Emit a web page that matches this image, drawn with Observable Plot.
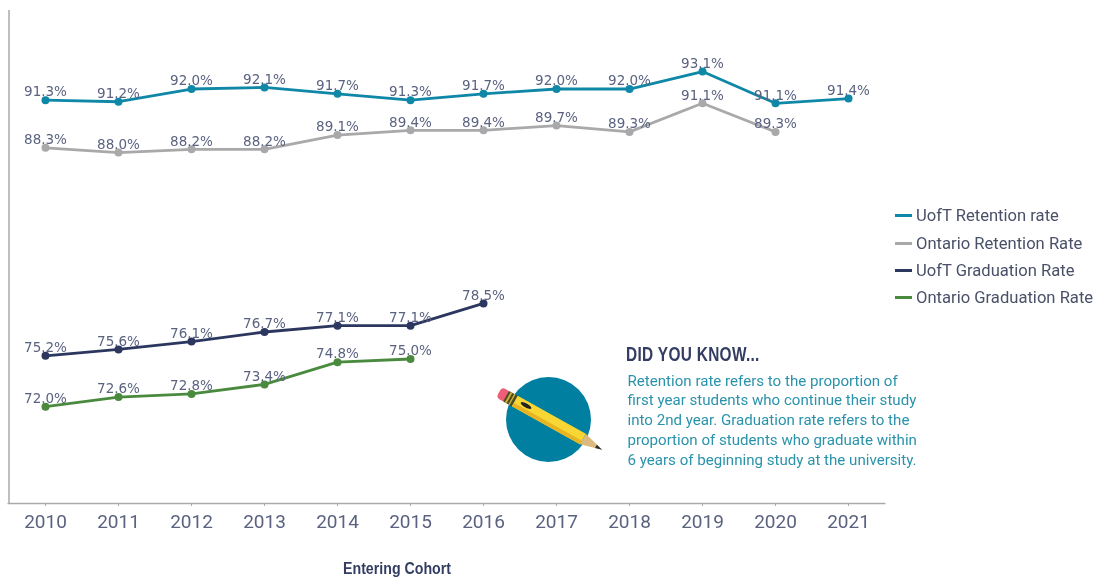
<!DOCTYPE html>
<html><head><meta charset="utf-8">
<script src="https://cdn.jsdelivr.net/npm/d3@7"></script>
<script src="https://cdn.jsdelivr.net/npm/@observablehq/plot@0.6"></script>
<style>
html,body{margin:0;padding:0;background:#fff;}
#wrap{position:relative;width:1094px;height:577px;overflow:hidden;filter:blur(0.35px);}
#chart{position:absolute;left:0;top:0;}
.abs{position:absolute;white-space:nowrap;}
.leg{font:16.6px Roboto,sans-serif;color:#4a5068;height:18px;line-height:18px;left:916px;}
.sw{position:absolute;left:895px;width:17px;height:2.5px;}
#head{left:626px;top:343px;font:bold 19.5px "Liberation Sans",sans-serif;color:#333c62;letter-spacing:.4px;transform:scaleX(.79);transform-origin:left center;}
#note{left:627.5px;top:371.5px;font:15.1px/19.8px Roboto,sans-serif;color:#2a93ab;}
#xl{left:343px;top:559px;font:bold 16.5px "Liberation Sans",sans-serif;color:#333c62;transform:scaleX(.86);transform-origin:left center;}
</style></head><body>
<div id="wrap"><div id="chart"></div>
<svg class="abs" style="left:0;top:0" width="1094" height="577">
<circle cx="548.5" cy="419.5" r="42.5" fill="#007fa0"/>
<g transform="translate(502,387) rotate(29.2)">
<rect x="0" y="0" width="10" height="12" rx="4" fill="#ee5e78"/>
<rect x="8" y="0" width="10" height="12" fill="#4d4a22"/>
<rect x="10" y="0" width="2" height="12" fill="#c9b13a"/>
<rect x="14" y="0" width="1.5" height="12" fill="#c9b13a"/>
<rect x="18" y="0" width="78" height="12" fill="#f8d735"/>
<rect x="18" y="8" width="78" height="4" fill="#e8b422"/>
<path d="M96 0L118 6L96 12Z" fill="#dcb97c"/>
<path d="M111 4.1L118 6L111 7.9Z" fill="#2b2b2b"/>
<ellipse cx="30" cy="4.4" rx="6" ry="2" fill="#222"/>
</g></svg>
<div class="abs" id="head">DID YOU KNOW...</div>
<div class="abs" id="note">Retention rate refers to the proportion of<br>first year students who continue their study<br>into 2nd year. Graduation rate refers to the<br>proportion of students who graduate within<br>6 years of beginning study at the university.</div>
<div class="abs" id="xl">Entering Cohort</div>
<div id="legend"></div>
</div>
<script>
const years=[2010,2011,2012,2013,2014,2015,2016,2017,2018,2019,2020,2021];
const uoftRetention=[91.3,91.2,92.0,92.1,91.7,91.3,91.7,92.0,92.0,93.1,91.1,91.4];
const ontarioRetention=[88.3,88.0,88.2,88.2,89.1,89.4,89.4,89.7,89.3,91.1,89.3];
const uoftGraduation=[75.2,75.6,76.1,76.7,77.1,77.1,78.5];
const ontarioGraduation=[72.0,72.6,72.8,73.4,74.8,75.0];
const seriesNames=["UofT Retention rate","Ontario Retention Rate","UofT Graduation Rate","Ontario Graduation Rate"];
const seriesValues=[uoftRetention,ontarioRetention,uoftGraduation,ontarioGraduation];
const colors=["#0f87a6","#a9a9ab","#2c3760","#4a8a3f"];
const rows=seriesNames.flatMap((s,i)=>seriesValues[i].map((v,j)=>({series:s,year:years[j],value:v})));
const plot=Plot.plot({
  width:1094,height:577,
  marginLeft:7.5,marginRight:209.5,marginTop:25,marginBottom:74,
  style:{background:"transparent"},
  x:{type:"point",domain:years,padding:0.5,label:null},
  y:{domain:[65.9,96],label:null},
  color:{domain:seriesNames,range:colors},
  marks:[
    Plot.ruleX([years[0]],{dx:-36.5,y1:96,y2:65.9,stroke:"#aaa",strokeWidth:1.5,insetTop:-15}),
    Plot.ruleY([65.9],{stroke:"#aaa",strokeWidth:1.5,insetRight:-1}),
    Plot.axisX({tickSize:3,tickPadding:8,fontSize:19,stroke:"#aaa",color:"#5a6280",tickFormat:d=>String(d),fontFamily:"Roboto,sans-serif"}),
    Plot.axisY({ticks:[],label:null}),
    Plot.line(rows,{x:"year",y:"value",stroke:"series",strokeWidth:2.8,z:"series",curve:"linear"}),
    Plot.dot(rows,{x:"year",y:"value",fill:"series",r:4}),
    Plot.text(rows,{x:"year",y:"value",text:d=>d.value.toFixed(1)+"%",dy:-8,fontSize:13.5,fill:"#5a6280",fontFamily:"DejaVu Sans,Verdana,sans-serif"})
  ]
});
document.getElementById("chart").append(plot);
const lg=document.getElementById("legend");
const tops=[206,234,261,288];
seriesNames.forEach((n,i)=>{
  const s=document.createElement("div");s.className="sw";s.style.top=(tops[i]+8)+"px";s.style.background=colors[i];lg.append(s);
  const t=document.createElement("div");t.className="abs leg";t.style.top=(tops[i]+1)+"px";t.textContent=n;lg.append(t);
});
</script></body></html>
